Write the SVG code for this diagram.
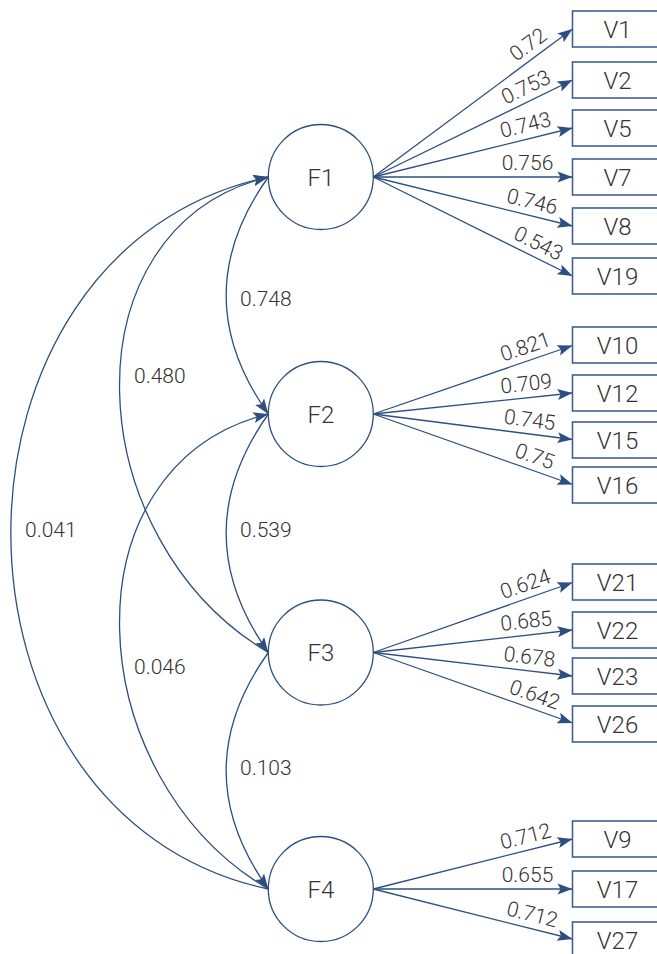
<svg xmlns="http://www.w3.org/2000/svg" width="657" height="954" viewBox="0 0 657 954">
  <style>
    .edge { fill: none; stroke: #2d4f80; stroke-width: 1.3; marker-end: url(#arrow); }
    .factor circle { fill: #ffffff; stroke: #2d4f80; stroke-width: 1.3; }
    .item rect { fill: #ffffff; stroke: #3f6090; stroke-width: 1.6; }
    .name { font-family: Roboto, "Liberation Sans", sans-serif; font-weight: 300; font-size: 24px; fill: #333333; text-anchor: middle; }
    .coef { font-family: Roboto, "Liberation Sans", sans-serif; font-weight: 300; font-size: 21px; fill: #333333; }
    .load { text-anchor: middle; }
  </style>
  <defs>
    <marker id="arrow" markerUnits="userSpaceOnUse" viewBox="-16 -6 16 12" refX="0" refY="0" markerWidth="16" markerHeight="12" orient="auto" overflow="visible">
      <path d="M0,0 L-15,-5.5 L-12,0 L-15,5.5 Z" fill="#2d4f80"/>
    </marker>
  </defs>

  <!-- connectors: factor loadings and factor covariances -->
  <g id="connectors">
    <!-- F1 loadings -->
    <line class="edge" x1="373.3" y1="177" x2="572.5" y2="29"/>
    <line class="edge" x1="373.3" y1="177" x2="572.5" y2="80"/>
    <line class="edge" x1="373.3" y1="177" x2="572.5" y2="128"/>
    <line class="edge" x1="373.3" y1="177" x2="572.5" y2="177"/>
    <line class="edge" x1="373.3" y1="177" x2="572.5" y2="226"/>
    <line class="edge" x1="373.3" y1="177" x2="572.5" y2="276"/>
    <!-- F2 loadings -->
    <line class="edge" x1="373.3" y1="414" x2="572.5" y2="345.5"/>
    <line class="edge" x1="373.3" y1="414" x2="572.5" y2="393"/>
    <line class="edge" x1="373.3" y1="414" x2="572.5" y2="439.5"/>
    <line class="edge" x1="373.3" y1="414" x2="572.5" y2="484.5"/>
    <!-- F3 loadings -->
    <line class="edge" x1="373.3" y1="652.5" x2="572.5" y2="582.5"/>
    <line class="edge" x1="373.3" y1="652.5" x2="572.5" y2="630"/>
    <line class="edge" x1="373.3" y1="652.5" x2="572.5" y2="676"/>
    <line class="edge" x1="373.3" y1="652.5" x2="572.5" y2="723"/>
    <!-- F4 loadings -->
    <line class="edge" x1="373.3" y1="889" x2="572.5" y2="839"/>
    <line class="edge" x1="373.3" y1="889" x2="572.5" y2="889"/>
    <line class="edge" x1="373.3" y1="889" x2="572.5" y2="939"/>

    <!-- covariances between neighbouring factors -->
    <path class="edge" d="M268.3,177 Q184,295.5 268.3,414"/>
    <path class="edge" d="M268.3,414 Q184,533.25 268.3,652.5"/>
    <path class="edge" d="M268.3,652.5 Q184,770.75 268.3,889"/>
    <!-- longer covariance arcs -->
    <path class="edge" d="M268.3,652.5 C78,540 62,228 268.3,177"/>
    <path class="edge" d="M268.3,889 C78,777 62,465 268.3,414"/>
    <path class="edge" d="M268.3,889 C-75,816 -75,250 268.3,177"/>

    <!-- loading values -->
    <g class="coef load">
      <text transform="translate(536.4,55.8) rotate(-36.61)" x="0" y="-7">0.72</text>
      <text transform="translate(532.0,99.7) rotate(-25.96)" x="0" y="-7">0.753</text>
      <text transform="translate(528.8,138.75) rotate(-13.82)" x="0" y="-7">0.743</text>
      <text transform="translate(527.5,177) rotate(0)" x="0" y="-7">0.756</text>
      <text transform="translate(528.8,215.25) rotate(13.82)" x="0" y="-7">0.746</text>
      <text transform="translate(532.2,256.0) rotate(26.43)" x="0" y="-7">0.543</text>

      <text transform="translate(529.9,360.1) rotate(-18.97)" x="0" y="-7">0.821</text>
      <text transform="translate(527.7,397.7) rotate(-6.02)" x="0" y="-7">0.709</text>
      <text transform="translate(527.9,433.8) rotate(7.29)" x="0" y="-7">0.745</text>
      <text transform="translate(530.1,469.5) rotate(19.49)" x="0" y="-7">0.75</text>

      <text transform="translate(530.0,597.4) rotate(-19.36)" x="0" y="-7">0.624</text>
      <text transform="translate(527.8,635.0) rotate(-6.44)" x="0" y="-7">0.685</text>
      <text transform="translate(527.8,670.7) rotate(6.73)" x="0" y="-7">0.678</text>
      <text transform="translate(530.1,708.0) rotate(19.49)" x="0" y="-7">0.642</text>

      <text transform="translate(528.9,850.0) rotate(-14.09)" x="0" y="-7">0.712</text>
      <text transform="translate(527.5,889) rotate(0)" x="0" y="-7">0.655</text>
      <text transform="translate(528.9,928.0) rotate(14.09)" x="0" y="-7">0.712</text>
    </g>

    <!-- covariance values -->
    <g class="coef">
      <text x="240" y="305.5">0.748</text>
      <text x="240" y="537">0.539</text>
      <text x="240" y="775">0.103</text>
      <text x="134" y="383">0.480</text>
      <text x="134" y="674">0.046</text>
      <text x="25" y="537">0.041</text>
    </g>
  </g>

  <!-- latent factors -->
  <g id="F1" class="factor"><circle cx="320.8" cy="177" r="52.5"/><text class="name" x="320.8" y="185.5">F1</text></g>
  <g id="F2" class="factor"><circle cx="320.8" cy="414" r="52.5"/><text class="name" x="320.8" y="422.5">F2</text></g>
  <g id="F3" class="factor"><circle cx="320.8" cy="652.5" r="52.5"/><text class="name" x="320.8" y="661">F3</text></g>
  <g id="F4" class="factor"><circle cx="320.8" cy="889" r="52.5"/><text class="name" x="320.8" y="897.5">F4</text></g>

  <!-- observed items -->
  <g id="V1" class="item"><rect x="572.5" y="11" width="90" height="36"/><text class="name" x="617.5" y="37.5">V1</text></g>
  <g id="V2" class="item"><rect x="572.5" y="62" width="90" height="36"/><text class="name" x="617.5" y="88.5">V2</text></g>
  <g id="V5" class="item"><rect x="572.5" y="110" width="90" height="36"/><text class="name" x="617.5" y="136.5">V5</text></g>
  <g id="V7" class="item"><rect x="572.5" y="159" width="90" height="36"/><text class="name" x="617.5" y="185.5">V7</text></g>
  <g id="V8" class="item"><rect x="572.5" y="208" width="90" height="36"/><text class="name" x="617.5" y="234.5">V8</text></g>
  <g id="V19" class="item"><rect x="572.5" y="258" width="90" height="36"/><text class="name" x="617.5" y="284.5">V19</text></g>

  <g id="V10" class="item"><rect x="572.5" y="327" width="90" height="36"/><text class="name" x="617.5" y="353.5">V10</text></g>
  <g id="V12" class="item"><rect x="572.5" y="375" width="90" height="36"/><text class="name" x="617.5" y="401.5">V12</text></g>
  <g id="V15" class="item"><rect x="572.5" y="422" width="90" height="36"/><text class="name" x="617.5" y="448.5">V15</text></g>
  <g id="V16" class="item"><rect x="572.5" y="467" width="90" height="36"/><text class="name" x="617.5" y="493.5">V16</text></g>

  <g id="V21" class="item"><rect x="572.5" y="564" width="90" height="36"/><text class="name" x="617.5" y="590.5">V21</text></g>
  <g id="V22" class="item"><rect x="572.5" y="612" width="90" height="36"/><text class="name" x="617.5" y="638.5">V22</text></g>
  <g id="V23" class="item"><rect x="572.5" y="658" width="90" height="36"/><text class="name" x="617.5" y="684.5">V23</text></g>
  <g id="V26" class="item"><rect x="572.5" y="706" width="90" height="36"/><text class="name" x="617.5" y="732.5">V26</text></g>

  <g id="V9" class="item"><rect x="572.5" y="821" width="90" height="36"/><text class="name" x="617.5" y="847.5">V9</text></g>
  <g id="V17" class="item"><rect x="572.5" y="871" width="90" height="36"/><text class="name" x="617.5" y="897.5">V17</text></g>
  <g id="V27" class="item"><rect x="572.5" y="922" width="90" height="36"/><text class="name" x="617.5" y="948.5">V27</text></g>
</svg>
